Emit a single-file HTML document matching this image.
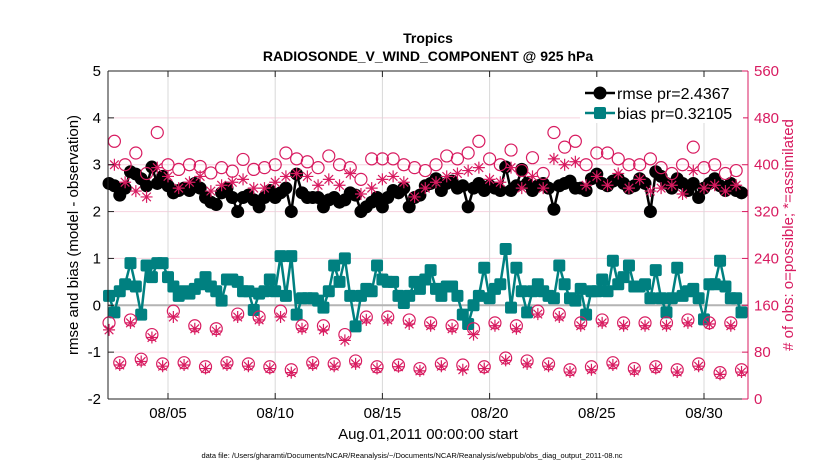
<!DOCTYPE html>
<html><head><meta charset="utf-8"><style>
html,body{margin:0;padding:0;background:#fff;}
svg{display:block;font-family:"Liberation Sans",sans-serif;}
</style></head><body>
<svg id="chart" width="830" height="470" viewBox="0 0 830 470">
<text x="428" y="43" text-anchor="middle" font-size="14" font-weight="bold">Tropics</text>
<text x="428" y="61" text-anchor="middle" font-size="14" font-weight="bold">RADIOSONDE_V_WIND_COMPONENT @ 925 hPa</text>
<g id="grid"></g>
<g id="marks"></g>
<g id="axes"></g>
<text transform="translate(78,235) rotate(-90)" text-anchor="middle" font-size="15">rmse and bias (model - observation)</text>
<text transform="translate(793,235) rotate(-90)" text-anchor="middle" font-size="15" fill="#d81b60"># of obs: o=possible; *=assimilated</text>
<text x="428" y="439" text-anchor="middle" font-size="15">Aug.01,2011 00:00:00 start</text>
<text x="412" y="458" text-anchor="middle" font-size="7.5">data file: /Users/gharamti/Documents/NCAR/Reanalysis/~/Documents/NCAR/Reanalysis/webpub/obs_diag_output_2011-08.nc</text>
<g id="legend">
<rect x="580" y="77" width="163" height="46" fill="#fff"/>
<line x1="585" y1="93" x2="615" y2="93" stroke="#000" stroke-width="2.5"/>
<circle cx="600" cy="93" r="6.5" fill="#000"/>
<text x="617" y="99" font-size="16">rmse pr=2.4367</text>
<line x1="585" y1="113" x2="615" y2="113" stroke="#008080" stroke-width="2.5"/>
<rect x="594" y="107" width="12" height="12" rx="2" fill="#008080"/>
<text x="617" y="119" font-size="16">bias pr=0.32105</text>
</g>
</svg>
<script>
const xTickLabels = ["08/05","08/10","08/15","08/20","08/25","08/30"];
const xTickDays = [4,9,14,19,24,29];
const leftTicks = [5,4,3,2,1,0,-1,-2];
const rightTicks = [0,80,160,240,320,400,480,560];
const startDay = 1.25, stepDay = 0.25;
const rmse = [
2.6,2.55,2.35,2.5, 2.85,2.8,2.7,2.55, 2.95,2.6,2.75,2.55, 2.4,2.45,2.5,2.45,
2.6,2.5,2.3,2.2, 2.15,2.4,2.5,2.3, 2.0,2.3,2.35,2.25, 2.1,2.3,2.45,2.3,
2.4,2.5,2.0,2.8, 2.4,2.3,2.3,2.3, 2.1,2.25,2.3,2.2, 2.25,2.4,2.35,2.0,
2.1,2.2,2.3,2.1, 2.3,2.45,2.4,2.5, 2.1,2.3,2.35,2.55, 2.6,2.7,2.45,2.6,
2.65,2.5,2.55,2.1, 2.5,2.6,2.45,2.55, 2.5,2.45,2.95,2.45, 2.55,2.9,2.6,2.45,
2.55,2.6,2.5,2.05, 2.55,2.6,2.65,2.5, 2.5,2.45,2.7,2.8, 2.6,2.55,2.65,2.7,
2.6,2.5,2.55,2.7, 2.6,2.0,2.85,2.75, 2.6,2.5,2.7,2.6, 2.45,2.6,2.3,2.5,
2.6,2.7,2.55,2.45, 2.6,2.45,2.4];
const bias = [
0.2,-0.15,0.3,0.45, 0.9,0.4,-0.2,0.85, 0.6,0.9,0.9,0.6, 0.4,0.2,0.3,0.25,
0.35,0.45,0.6,0.4, 0.3,0.1,0.55,0.55, 0.5,0.3,0.3,-0.1, 0.25,0.3,0.55,0.3,
1.05,0.2,1.05,-0.2, 0.15,0.15,0.15,0.1, -0.05,0.3,0.85,0.5, 1.0,0.2,-0.45,0.2,
0.35,0.3,0.85,0.55, 0.5,0.5,0.2,0.05, 0.2,0.5,0.35,0.55, 0.75,0.35,0.2,0.4,
0.4,0.2,-0.2,-0.4, 0.0,0.2,0.8,0.15, 0.35,0.45,1.2,-0.05, 0.8,0.3,-0.15,0.3,
0.45,0.3,0.2,0.15, 0.85,0.45,0.15,0.1, 0.35,-0.2,0.3,0.3, 0.55,0.3,0.95,0.45,
0.6,0.85,0.4,0.4, 0.45,0.15,0.75,0.15, -0.15,0.15,0.8,0.2, 0.3,0.35,0.15,-0.3,
0.45,0.45,0.95,0.4, 0.15,0.15,-0.15];
const obsPossible = [
130,440,62,400, 135,420,68,385, 110,455,60,400, 150,392,62,400, 125,397,55,386,
120,395,62,389, 145,409,60,392, 140,395,55,400, 150,420,50,410, 125,405,62,395,
125,415,60,400, 110,395,65,375, 140,410,55,410, 140,410,58,400, 135,395,52,390,
130,400,60,415, 125,410,58,420, 120,440,55,410, 130,400,70,425, 125,390,65,412,
150,385,60,455, 145,430,50,440, 130,400,55,420, 135,420,62,410, 130,400,52,400,
130,410,55,395, 130,385,50,400, 135,430,60,395, 130,400,45,385, 130,390,50];
const obsAssim = [
118,400,58,370, 130,355,64,345, 105,395,56,380, 140,360,58,370, 120,380,52,355,
116,365,58,370, 140,375,56,360, 135,360,52,370, 140,380,45,385, 120,380,58,365,
118,375,56,365, 100,385,60,350, 135,360,52,375, 135,380,55,370, 128,345,48,360,
125,370,56,380, 120,385,50,390, 110,395,52,375, 125,370,66,395, 120,360,60,380,
145,360,56,410, 140,400,46,405, 125,365,50,380, 130,365,58,385, 125,360,48,375,
125,355,52,360, 125,365,46,350, 130,390,56,360, 128,365,42,355, 125,365,46];

const L=108,R=748,T=71,B=399;
const xs = d => 168 + (d-4)*21.44;
const yl = v => T + (5-v)*(B-T)/7;
const yr = c => B - c*(B-T)/560;
const NS="http://www.w3.org/2000/svg";
function mk(tag, attrs, parent){const e=document.createElementNS(NS,tag);for(const k in attrs)e.setAttribute(k,attrs[k]);parent.appendChild(e);return e;}
const grid=document.getElementById('grid'), marks=document.getElementById('marks'), axes=document.getElementById('axes');
const PINK="#d81b60";

rightTicks.forEach(c=>{if(c>0&&c<560){const g=mk('line',{x1:L,x2:R,y1:yr(c),y2:yr(c),stroke:'#f6d3df','stroke-width':1},grid);

}});
xTickDays.forEach(d=>{const g=mk('line',{x1:xs(d),x2:xs(d),y1:T,y2:B,stroke:'#d8d8d8','stroke-width':1},grid);

});
const zl=mk('line',{x1:L,x2:R,y1:yl(0),y2:yl(0),stroke:'#b4b4b4','stroke-width':2},grid);



function series(vals,color,name){
  const pts=vals.map((v,i)=>xs(startDay+i*stepDay).toFixed(1)+','+yl(v).toFixed(1)).join(' ');
  const pl=mk('polyline',{points:pts,fill:'none',stroke:color,'stroke-width':2.5},marks);
  
  
}
series(rmse,'#000','rmse');
rmse.forEach((v,i)=>{const c=mk('circle',{cx:xs(startDay+i*stepDay),cy:yl(v),r:6.5,fill:'#000'},marks);

});
series(bias,'#008080','bias');
bias.forEach((v,i)=>{const r=mk('rect',{x:xs(startDay+i*stepDay)-6,y:yl(v)-6,width:12,height:12,rx:2,fill:'#008080'},marks);

});
obsPossible.forEach((c,i)=>{const e=mk('circle',{cx:xs(startDay+i*stepDay),cy:yr(c),r:6,fill:'none',stroke:PINK,'stroke-width':1.2},marks);

});
obsAssim.forEach((c,i)=>{const x=xs(startDay+i*stepDay),y=yr(c),s=6,d=4.3;
const p=mk('path',{d:`M${x-s},${y}H${x+s}M${x},${y-s}V${y+s}M${x-d},${y-d}L${x+d},${y+d}M${x-d},${y+d}L${x+d},${y-d}`,stroke:PINK,'stroke-width':1.2,fill:'none'},marks);

});

mk('line',{x1:L,x2:R,y1:T,y2:T,stroke:'#222','stroke-width':1},axes);
mk('line',{x1:L,x2:R,y1:B,y2:B,stroke:'#222','stroke-width':1},axes);
mk('line',{x1:L,x2:L,y1:T,y2:B,stroke:'#222','stroke-width':1},axes);
mk('line',{x1:R,x2:R,y1:T,y2:B,stroke:PINK,'stroke-width':1},axes);
leftTicks.forEach(v=>{mk('line',{x1:L,x2:L+6,y1:yl(v),y2:yl(v),stroke:'#222'},axes);
const t=mk('text',{x:L-7,y:yl(v)+5,'text-anchor':'end','font-size':15},axes);t.textContent=v;

});
rightTicks.forEach(c=>{mk('line',{x1:R-6,x2:R,y1:yr(c),y2:yr(c),stroke:PINK},axes);
const t=mk('text',{x:R+6,y:yr(c)+5,'font-size':15,fill:PINK},axes);t.textContent=c;

});
xTickDays.forEach((d,i)=>{mk('line',{x1:xs(d),x2:xs(d),y1:B,y2:B-6,stroke:'#222'},axes);
mk('line',{x1:xs(d),x2:xs(d),y1:T,y2:T+6,stroke:'#222'},axes);
const t=mk('text',{x:xs(d),y:B+19,'text-anchor':'middle','font-size':15},axes);t.textContent=xTickLabels[i];

});
</script>
</body></html>
